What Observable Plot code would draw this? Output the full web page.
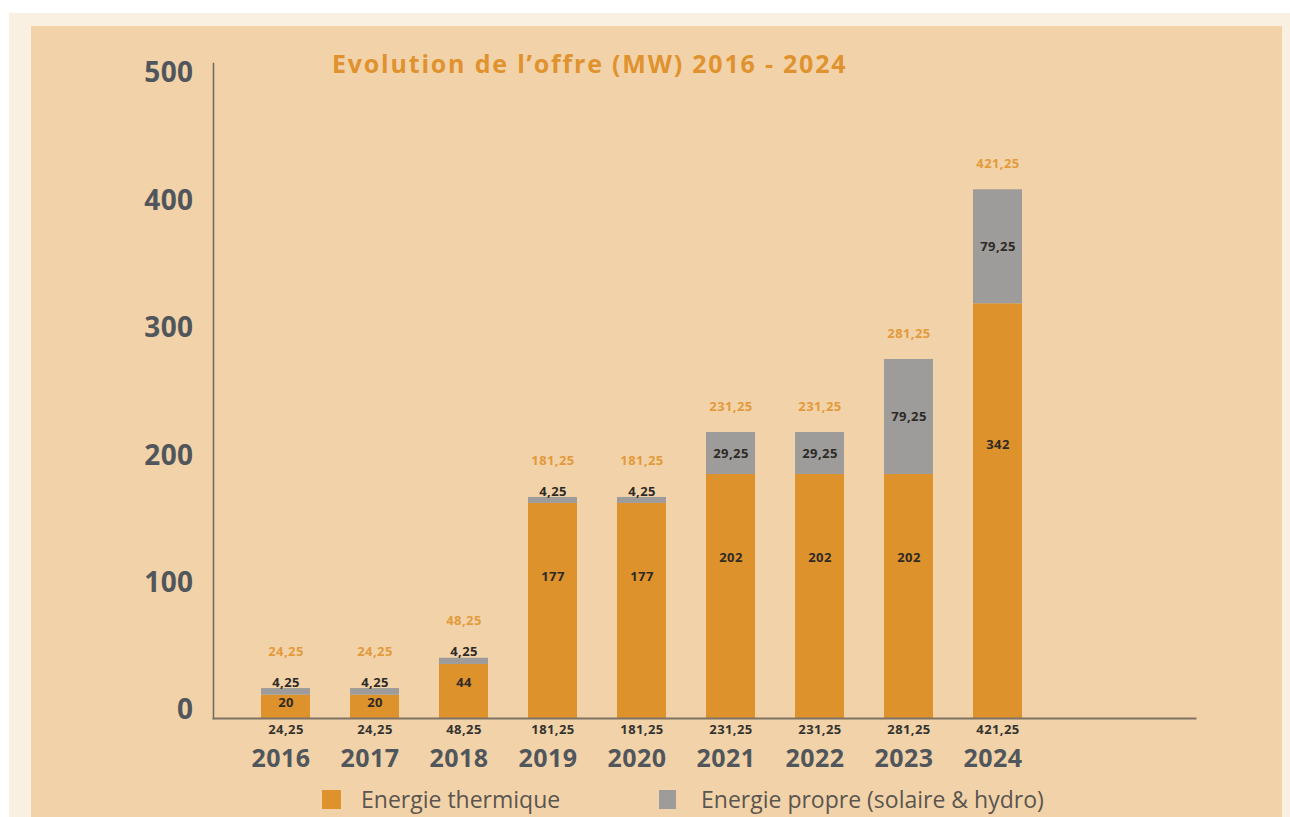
<!DOCTYPE html>
<html>
<head>
<meta charset="utf-8">
<script src="https://cdn.jsdelivr.net/npm/d3@7"></script>
<script src="https://cdn.jsdelivr.net/npm/@observablehq/plot@0.6"></script>
<style>
  html, body { margin: 0; padding: 0; background: #ffffff; width: 1290px; height: 817px; overflow: hidden; }
  #outer { position: absolute; left: 9px; top: 13px; width: 1281px; height: 804px; background: #faf0e1; }
  #inner { position: absolute; left: 31px; top: 26px; width: 1251px; height: 791px; background: #f2d3a9; }
  #chart { position: absolute; left: 0; top: 0; }
  #title { position: absolute; left: 332px; top: 51px; font-family: "Open Sans", sans-serif; font-weight: 700; font-size: 25px; letter-spacing: 1.8px; line-height: 1; color: #e0922f; white-space: nowrap; }
  .leg { position: absolute; top: 790px; height: 19px; display: flex; align-items: center; font-family: "Open Sans", sans-serif; font-size: 23px; line-height: 19px; color: #5b5550; white-space: nowrap; }
  .sw { width: 19px; height: 19px; margin-right: 20px; }
  #chart text { letter-spacing: 0.4px; }
</style>
</head>
<body>
<div id="outer"></div>
<div id="inner"></div>
<div id="chart"></div>
<div id="title">Evolution de l’offre (MW) 2016 - 2024</div>
<div class="leg" style="left:322px"><div class="sw" style="background:#de922c"></div><span>Energie thermique</span></div>
<div class="leg" style="left:659px"><div class="sw" style="background:#9d9c9b;width:17px"></div><span style="margin-left:5px">Energie propre (solaire &amp; hydro)</span></div>
<script>
// Categories
const years = ["2016", "2017", "2018", "2019", "2020", "2021", "2022", "2023", "2024"];
// Bar heights as drawn in the picture (MW)
const thermalDrawn = [18.3, 18.3, 42.4, 168.8, 168.8, 191.5, 191.5, 191.5, 325.5];
const cleanDrawn = [5.2, 5.2, 4.9, 4.7, 4.7, 33, 33, 90.3, 89.5];
// Labels written on the chart
const thermalLabels = ["20", "20", "44", "177", "177", "202", "202", "202", "342"];
const cleanLabels = ["4,25", "4,25", "4,25", "4,25", "4,25", "29,25", "29,25", "79,25", "79,25"];
const totalLabels = ["24,25", "24,25", "48,25", "181,25", "181,25", "231,25", "231,25", "281,25", "421,25"];
const yTicks = [0, 100, 200, 300, 400, 500];
const seriesNames = ["Energie thermique", "Energie propre (solaire & hydro)"];
const seriesColors = ["#de922c", "#9d9c9b"];

const rows = [];
years.forEach((y, i) => rows.push({year: y, type: seriesNames[0], value: thermalDrawn[i]}));
years.forEach((y, i) => rows.push({year: y, type: seriesNames[1], value: cleanDrawn[i]}));

const info = years.map((y, i) => ({
  year: y,
  thermal: thermalDrawn[i],
  clean: cleanDrawn[i],
  total: thermalDrawn[i] + cleanDrawn[i],
  small: cleanDrawn[i] < 10,
  tl: thermalLabels[i], cl: cleanLabels[i], tot: totalLabels[i]
}));
const smallRows = info.filter(d => d.small);
const bigRows = info.filter(d => !d.small);

const font = "'Open Sans', sans-serif";

const chart = Plot.plot({
  width: 1290,
  height: 790,
  marginLeft: 213,
  marginRight: 95,
  marginTop: 63,
  marginBottom: 72,
  style: {background: "transparent", fontFamily: font, overflow: "visible"},
  x: {type: "band", domain: years, range: [239, 1044.5], paddingInner: 0.447, paddingOuter: 0.2235, axis: null},
  y: {domain: [0, 500], range: [718, 81], axis: null},
  color: {domain: seriesNames, range: seriesColors},
  marks: [
    Plot.barY(rows, {x: "year", y: "value", fill: "type"}),
    Plot.frame({anchor: "left", stroke: "#6f665d", strokeWidth: 1.5}),
    Plot.frame({anchor: "bottom", stroke: "#7f7366", strokeWidth: 2}),
    // y tick labels
    Plot.text(yTicks, {y: d => d, text: d => String(d), frameAnchor: "left", dx: -20, dy: -8, textAnchor: "end",
      fontSize: 28, fontWeight: 700, fill: "#50565b"}),
    // year labels
    Plot.text(info, {x: "year", y: 0, text: "year", dy: 40, dx: -5, fontSize: 25, fontWeight: 700, fill: "#50565b"}),
    // totals under axis
    Plot.text(info, {x: "year", y: 0, text: "tot", dy: 11, fontSize: 13, fontWeight: 700, fill: "#35332f"}),
    // thermal labels
    Plot.text(info, {x: "year", y: d => d.thermal * 0.66, text: "tl", fontSize: 13, fontWeight: 700, fill: "#2e2a25"}),
    // clean labels (small ones above bar, big ones centered)
    Plot.text(smallRows, {x: "year", y: "total", text: "cl", dy: -6, fontSize: 13, fontWeight: 700, fill: "#2e2a25"}),
    Plot.text(bigRows, {x: "year", y: d => d.thermal + d.clean / 2, text: "cl", fontSize: 13, fontWeight: 700, fill: "#2e2a25"}),
    // orange totals above bars
    Plot.text(smallRows, {x: "year", y: "total", text: "tot", dy: -37, fontSize: 13, fontWeight: 700, fill: "#e39a3b"}),
    Plot.text(bigRows, {x: "year", y: "total", text: "tot", dy: -26, fontSize: 13, fontWeight: 700, fill: "#e39a3b"})
  ]
});
document.getElementById("chart").appendChild(chart);
</script>
</body>
</html>
